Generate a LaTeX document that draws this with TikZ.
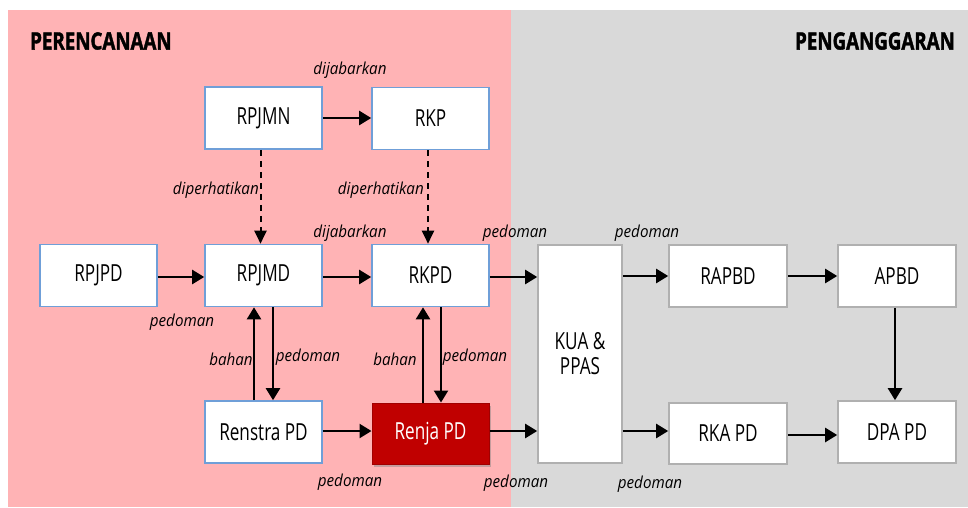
\documentclass[tikz,border=0pt]{standalone}
\usepackage{fontspec}
\setmainfont{Open Sans}
\newfontfamily\boxfont[FakeStretch=0.73]{Open Sans}
\newfontfamily\lblfont[FakeStretch=0.92]{Open Sans}
\newfontfamily\hdrfont[FakeStretch=0.78,FakeBold=1.5]{Open Sans}
\usetikzlibrary{arrows.meta,shadows}
\definecolor{pinkbg}{HTML}{FFB3B5}
\definecolor{graybg}{HTML}{D9D9D9}
\definecolor{blueln}{HTML}{6F9FD8}
\definecolor{grayln}{HTML}{B0B0B0}
\definecolor{renjared}{HTML}{C00000}
\definecolor{renjaln}{HTML}{A00000}
\tikzset{
  bluebox/.style={draw=blueln, line width=1.6pt, fill=white, rectangle, minimum width=117pt, minimum height=62pt, inner sep=0pt, font=\boxfont\fontsize{23.5}{25}\selectfont},
  graybox/.style={draw=grayln, line width=1.6pt, fill=white, rectangle, minimum width=118pt, minimum height=62pt, inner sep=0pt, font=\boxfont\fontsize{23.5}{25}\selectfont},
  redbox/.style={draw=renjaln, line width=1pt, fill=renjared, rectangle, minimum width=117pt, minimum height=61pt, inner sep=0pt, text=white, font=\boxfont\fontsize{23.5}{25}\selectfont, drop shadow={opacity=0.45, shadow xshift=2pt, shadow yshift=-3pt}},
  lbl/.style={font=\lblfont\itshape\fontsize{16.5}{18}\selectfont, inner sep=0pt},
  hdr/.style={font=\hdrfont\bfseries\fontsize{24}{26}\selectfont, inner sep=0pt},
  arr/.style={line width=2.3pt, -{Triangle[length=12pt,width=14pt]}},
  darr/.style={line width=2pt, dash pattern=on 6pt off 5pt, -{Triangle[length=13pt,width=12pt]}}
}
\begin{document}
\begin{tikzpicture}[x=1pt,y=-1pt]
\useasboundingbox (0,0) rectangle (968,507);
\fill[white] (0,0) rectangle (968,507);
\fill[pinkbg] (8,10) rectangle (511,507);
\fill[graybg] (511,10) rectangle (968,507);

\node[hdr, anchor=west] (h1) at (30,41) {PERENCANAAN};
\node[hdr, anchor=east] (h2) at (955,41) {PENGANGGARAN};

\node[bluebox] (rpjmn) at (263.5,118) {RPJMN};
\node[bluebox] (rkp) at (430.5,118.5) {RKP};
\node[bluebox] (rpjpd) at (98.5,275.5) {RPJPD};
\node[bluebox] (rpjmd) at (263.5,275.5) {RPJMD};
\node[bluebox] (rkpd) at (430.5,275.5) {RKPD};
\node[bluebox] (renstra) at (263.5,432) {Renstra PD};
\node[redbox] (renja) at (430.5,433.5) {Renja PD};
\node[graybox, minimum width=84pt, minimum height=218pt, align=center] (kua) at (580,354) {KUA \&\\PPAS};
\node[graybox] (rapbd) at (728,276) {RAPBD};
\node[graybox] (apbd) at (897,276) {APBD};
\node[graybox, minimum height=61pt] (rka) at (728,433.5) {RKA PD};
\node[graybox] (dpa) at (897,432) {DPA PD};

% arrows
\draw[arr] (rpjmn.east) -- (rkp.west |- rpjmn.east);
\draw[darr] ([xshift=-3pt]rpjmn.south) -- ([xshift=-3pt]rpjmd.north);
\draw[darr] ([xshift=-2.5pt]rkp.south) -- ([xshift=-2.5pt]rkpd.north);
\draw[arr] ([yshift=-1.5pt]rpjpd.east) -- ([yshift=-1.5pt]rpjmd.west);
\draw[arr] ([yshift=-1.5pt]rpjmd.east) -- ([yshift=-1.5pt]rkpd.west);
\draw[arr] ([yshift=-1.5pt]rkpd.east) -- ([yshift=-1.5pt]rkpd.east -| kua.west);
\draw[arr] (kua.east |- rapbd.west) -- (rapbd.west);
\draw[arr] (rapbd.east) -- (apbd.west);
\draw[arr] ([xshift=-2pt]apbd.south) -- ([xshift=-2pt]dpa.north);
\draw[arr] ([xshift=-9.5pt]renstra.north) -- ([xshift=-9.5pt]rpjmd.south);
\draw[arr] ([xshift=9.5pt]rpjmd.south) -- ([xshift=9.5pt]renstra.north);
\draw[arr] ([xshift=-7.5pt]renja.north) -- ([xshift=-7.5pt]rkpd.south);
\draw[arr] ([xshift=10.5pt]rkpd.south) -- ([xshift=10.5pt]renja.north);
\draw[arr] ([yshift=1pt]renstra.east) -- ([yshift=1pt]renja.west |- renstra.east);
\draw[arr] ([yshift=2.5pt]renja.east) -- ([yshift=2.5pt]renja.east -| kua.west);
\draw[arr] ([yshift=2.5pt]rka.west -| kua.east) -- ([yshift=2.5pt]rka.west);
\draw[arr] ([yshift=-1.5pt]rka.east) -- ([yshift=-1.5pt]rka.east -| dpa.west);

% labels
\node[lbl] (l1) at (350,70) {dijabarkan};
\node[lbl, anchor=east] (l2) at (259,190) {diperhatikan};
\node[lbl, anchor=east] (l3) at (424,190) {diperhatikan};
\node[lbl] (l4) at (350,233) {dijabarkan};
\node[lbl] (l5) at (515,233) {pedoman};
\node[lbl] (l6) at (647,233) {pedoman};
\node[lbl] (l7) at (182,322) {pedoman};
\node[lbl] (l8) at (231,359) {bahan};
\node[lbl] (l9) at (308,357) {pedoman};
\node[lbl] (l10) at (395,359) {bahan};
\node[lbl] (l11) at (475,357) {pedoman};
\node[lbl] (l12) at (350,482) {pedoman};
\node[lbl] (l13) at (516,483) {pedoman};
\node[lbl] (l14) at (650,484) {pedoman};
\end{tikzpicture}
\end{document}
